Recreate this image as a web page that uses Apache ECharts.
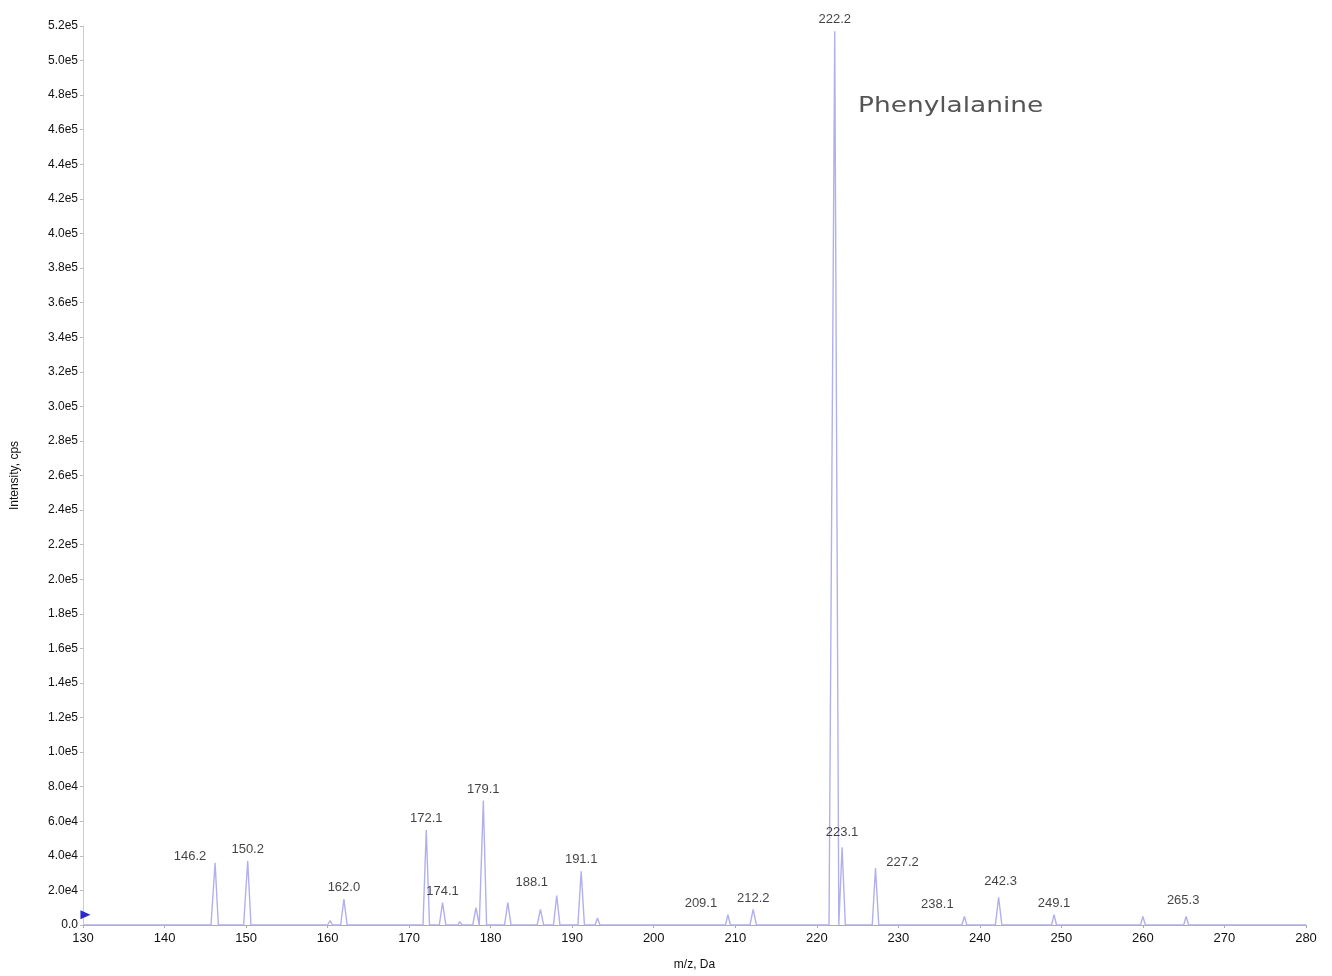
<!DOCTYPE html>
<html>
<head>
<meta charset="utf-8">
<script src="https://cdn.jsdelivr.net/npm/echarts@6/dist/echarts.min.js"></script>
<style>
  html, body { margin: 0; padding: 0; background: #fff; }
  #spectrum { width: 1332px; height: 976px; }
</style>
</head>
<body>
<div id="spectrum"></div>
<script>
  // spectrum trace: m/z and intensity (cps), baseline + apex points
  const specMz = [
    130.0, 145.7, 146.2, 146.6, 149.7, 150.2, 150.6, 160.0, 160.3, 160.6,
    161.6, 162.0, 162.4, 171.7, 172.1, 172.5, 173.7, 174.1, 174.5, 176.0,
    176.2, 176.5, 177.8, 178.2, 178.6, 178.7, 179.1, 179.5, 181.7, 182.1,
    182.5, 185.7, 186.1, 186.5, 187.7, 188.1, 188.5, 190.7, 191.1, 191.5,
    192.8, 193.1, 193.4, 208.8, 209.1, 209.4, 211.8, 212.2, 212.6, 221.5,
    222.2, 222.7, 222.8, 223.1, 223.5, 226.8, 227.2, 227.6, 237.8, 238.1,
    238.4, 241.9, 242.3, 242.7, 248.8, 249.1, 249.4, 259.7, 260.0, 260.3,
    265.0, 265.3, 265.6, 280.0
  ]
  const specInt = [
    0, 0, 36000, 0, 0, 37000, 0, 0, 2500, 0,
    0, 15000, 0, 0, 55000, 0, 0, 13000, 0, 0,
    2000, 0, 0, 10000, 0, 0, 72000, 0, 0, 13000,
    0, 0, 9000, 0, 0, 17000, 0, 0, 31000, 0,
    0, 4000, 0, 0, 6000, 0, 0, 9000, 0, 0,
    517000, 0, 0, 45000, 0, 0, 33000, 0, 0, 5000,
    0, 0, 16000, 0, 0, 6000, 0, 0, 5000, 0,
    0, 5000, 0, 0
  ]

  // labelled peaks
  const peakLabels = [146.2, 150.2, 162.0, 172.1, 174.1, 179.1, 188.1, 191.1, 209.1,
    212.2, 222.2, 223.1, 227.2, 238.1, 242.3, 249.1, 265.3]

  // y axis ticks
  const yMin = 0
  const yMax = 520000
  const yStep = 20000

  // label nudges so they sit where the original put them
  const labelNudge = {
    '146.2': [-25, 5], '188.1': [-25, -2], '209.1': [-27, 0], '227.2': [27, 6],
    '238.1': [-27, 0], '242.3': [2, -4], '223.1': [0, -3], '265.3': [-3, -4]
  }

  const sans = '"Liberation Sans", Arial, sans-serif'

  function sciLabel(v) {
    if (v === 0) return '0.0'
    const e = Math.floor(Math.log10(v) + 1e-9)
    return (v / Math.pow(10, e)).toFixed(1) + 'e' + e
  }

  const lineData = specMz.map((m, i) => [m, specInt[i]])
  const labelData = peakLabels.map(m => {
    const i = specMz.indexOf(m)
    const nudge = labelNudge[m.toFixed(1)] || [0, 0]
    return { value: [m, specInt[i]], label: { offset: nudge } }
  })

  const chart = echarts.init(document.getElementById('spectrum'))

  const option = {
    animation: false,
    backgroundColor: '#fff',
    grid: { left: 83, right: 26, top: 26, bottom: 50 },
    graphic: [{
      type: 'text',
      left: 858,
      top: 95,
      scaleX: 1.2,
      style: {
        text: 'Phenylalanine',
        fontFamily: '"DejaVu Sans", sans-serif',
        fontSize: 22,
        fill: '#555'
      }
    }],
    xAxis: {
      type: 'value',
      min: 130,
      max: 280,
      interval: 10,
      name: 'm/z, Da',
      nameLocation: 'middle',
      nameGap: 34,
      nameTextStyle: { color: '#111', fontSize: 12, fontFamily: sans },
      axisLine: { lineStyle: { color: '#aaa', width: 1 } },
      axisTick: { show: true, length: 3, lineStyle: { color: '#aaa' } },
      axisLabel: { color: '#111', fontSize: 13, fontFamily: sans, margin: 7 },
      splitLine: { show: false }
    },
    yAxis: {
      type: 'value',
      min: yMin,
      max: yMax,
      interval: yStep,
      name: 'Intensity, cps',
      nameLocation: 'middle',
      nameGap: 62,
      nameTextStyle: { color: '#111', fontSize: 12, fontFamily: sans },
      axisLine: { show: true, lineStyle: { color: '#ccc', width: 1 } },
      axisTick: { show: true, length: 3, lineStyle: { color: '#bbb' } },
      axisLabel: { color: '#111', fontSize: 12, fontFamily: sans, margin: 5, formatter: sciLabel },
      splitLine: { show: false }
    },
    series: [{
      name: 'spectrum',
      type: 'line',
      data: lineData,
      showSymbol: false,
      lineStyle: { color: '#b0b0ee', width: 1.4 },
      markPoint: {
        symbol: 'triangle',
        symbolRotate: -90,
        symbolSize: [9, 10],
        itemStyle: { color: '#2a2ad0' },
        label: { show: false },
        data: [{ coord: [130.3, 6000] }]
      },
      z: 2
    }, {
      name: 'labels',
      type: 'scatter',
      data: labelData,
      symbolSize: 0,
      label: {
        show: true,
        position: 'top',
        distance: 5,
        color: '#111',
        fontSize: 13,
        fontFamily: sans,
        formatter: p => p.value[0].toFixed(1)
      },
      z: 3
    }]
  }

  chart.setOption(option)
</script>
</body>
</html>
